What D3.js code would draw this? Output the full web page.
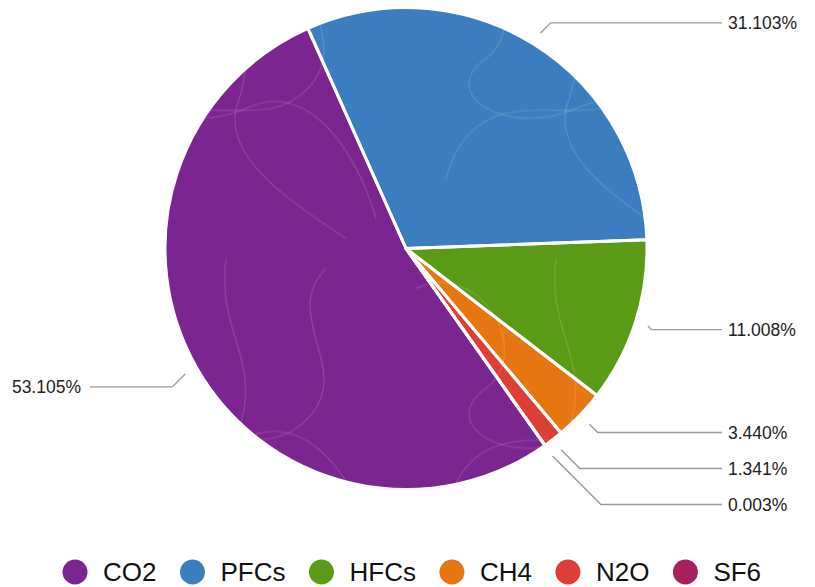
<!DOCTYPE html>
<html>
<head>
<meta charset="utf-8">
<script src="https://cdn.jsdelivr.net/npm/d3@7"></script>
<style>
  html, body { margin: 0; padding: 0; background: #fff; }
  svg { display: block; font-family: "Liberation Sans", Arial, Helvetica, sans-serif; }
</style>
</head>
<body>
<svg id="chart" width="815" height="587"></svg>
<script>
// ---- data ----
const categories = ["CO2", "PFCs", "HFCs", "CH4", "N2O", "SF6"];
const values = [53.105, 31.103, 11.008, 3.440, 1.341, 0.003];
const colors = ["#7B2590", "#3B7DBE", "#5B9A17", "#E67612", "#DD3E35", "#A6215E"];

// ---- layout ----
const cx = 406, cy = 248.5, R = 241;
const startDeg = 144.8;
const svg = d3.select("#chart");

const total = d3.sum(values);
const fmt = v => d3.format(".3f")(v / total * 100) + "%";

const data = categories.map((c, i) => ({ name: c, value: values[i], color: colors[i] }));
const pie = d3.pie().sort(null).value(d => d.value)
  .startAngle(startDeg * Math.PI / 180)
  .endAngle(startDeg * Math.PI / 180 + 2 * Math.PI);
const arcs = pie(data);
const arc = d3.arc().innerRadius(0).outerRadius(R);

// scribble texture (decorative)
const defs = svg.append("defs");
const pat = defs.append("pattern").attr("id", "scribble")
  .attr("patternUnits", "userSpaceOnUse").attr("width", 330).attr("height", 330);
const scribbles = [
  "M10,40 C70,10 130,100 80,140 C30,175 100,220 170,190 C230,160 280,230 300,300",
  "M250,20 C200,70 290,130 220,180 C170,215 70,150 40,260",
  "M150,10 C140,90 190,110 160,190 C150,240 210,280 270,320"
];
pat.selectAll("path").data(scribbles).join("path")
  .attr("d", d => d).attr("fill", "none")
  .attr("stroke", "#ffffff").attr("stroke-opacity", 0.12).attr("stroke-width", 1.4);

const g = svg.append("g").attr("transform", `translate(${cx},${cy})`);
g.selectAll("path.slice").data(arcs).join("path")
  .attr("class", "slice")
  .attr("d", arc)
  .attr("fill", d => d.data.color);
g.selectAll("path.tex").data(arcs).join("path")
  .attr("class", "tex")
  .attr("d", arc)
  .attr("fill", "url(#scribble)");
g.selectAll("path.sep").data(arcs).join("path")
  .attr("class", "sep")
  .attr("d", arc)
  .attr("fill", "none")
  .attr("stroke", "#fff").attr("stroke-width", 3).attr("stroke-linejoin", "round");

// ---- labels ----
const polar = (r, a) => [cx + r * Math.sin(a), cy - r * Math.cos(a)];
const items = arcs.map(d => {
  const mid = (d.startAngle + d.endAngle) / 2;
  const s = polar(R + 13, mid);
  const n = polar(R + 25, mid);
  const right = Math.sin(mid) > 0;
  return { d, mid, start: s, y: right ? n[1] : n[1] + 7, right };
});
["right", "left"].forEach(side => {
  const list = items.filter(it => (side === "right") === it.right).sort((a, b) => a.y - b.y);
  for (let i = 1; i < list.length; i++) {
    if (list[i].y < list[i - 1].y + 36) list[i].y = list[i - 1].y + 36;
  }
});
const lg = svg.append("g");
items.forEach(it => {
  const dy = Math.abs(it.y - it.start[1]);
  const bx = it.right ? it.start[0] + dy : it.start[0] - dy;
  const ex = it.right ? 722 : 90;
  lg.append("polyline")
    .attr("points", `${it.start[0]},${it.start[1]} ${bx},${it.y} ${ex},${it.y}`)
    .attr("fill", "none").attr("stroke", "#9a9a9a").attr("stroke-width", 1.3);
  lg.append("text")
    .attr("x", it.right ? 728 : 81)
    .attr("y", it.y)
    .attr("dy", "0.35em")
    .attr("text-anchor", it.right ? "start" : "end")
    .attr("font-size", 17.5)
    .attr("fill", "#222")
    .text(fmt(it.d.data.value));
});

// ---- legend ----
const leg = svg.append("g");
let x = 63;
const ly = 572;
data.forEach(d => {
  const it = leg.append("g");
  it.append("circle").attr("cx", x + 12).attr("cy", ly).attr("r", 12.5).attr("fill", d.color);
  const t = it.append("text").attr("x", x + 40).attr("y", ly).attr("dy", "0.35em")
    .attr("font-size", 26).attr("fill", "#111").text(d.name);
  x += 40 + t.node().getComputedTextLength() + 24;
});
</script>
</body>
</html>
